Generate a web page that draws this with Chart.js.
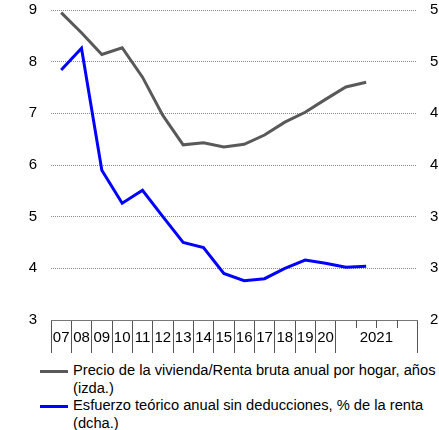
<!DOCTYPE html>
<html>
<head>
<meta charset="utf-8">
<script src="https://cdn.jsdelivr.net/npm/chart.js@4"></script>
<style>
  html, body { margin: 0; padding: 0; background: #fff; }
  body { width: 439px; height: 430px; overflow: hidden; font-family: "Liberation Sans", Arial, sans-serif; }
  #wrap { position: relative; width: 439px; height: 360px; }
  #legend { margin-top: 2px; font-size: 14.7px; line-height: 17.6px; color: #000; }
  .item { display: flex; align-items: flex-start; }
  .swatch { width: 28px; height: 3px; margin-left: 40px; margin-top: 8px; margin-right: 5px; flex: none; }
  .txt { white-space: nowrap; }
</style>
</head>
<body>
<div id="wrap"><canvas id="c" width="439" height="360"></canvas></div>
<div id="legend"></div>
<script>
// ---- data ----
const categories = ['07','08','09','10','11','12','13','14','15','16','17','18','19','20','I-21','II-21','III-21','IV-21'];
const tickLabels = ['07','08','09','10','11','12','13','14','15','16','17','18','19','20','','','',''];
const groupLabel = '2021';
const seriesNames = [
  ['Precio de la vivienda/Renta bruta anual por hogar, años', '(izda.)'],
  ['Esfuerzo teórico anual sin deducciones, % de la renta', '(dcha.)']
];
const precioRenta = [8.95, 8.56, 8.14, 8.27, 7.70, 6.96, 6.39, 6.43, 6.35, 6.40, 6.58, 6.83, 7.02, 7.27, 7.51, 7.60, null, null];
const esfuerzo = [4.42, 4.63, 3.45, 3.13, 3.255, 3.00, 2.75, 2.70, 2.45, 2.38, 2.40, 2.50, 2.58, 2.55, 2.51, 2.52, null, null];
const leftTicks = { min: 3, max: 9, step: 1 };
const rightTicks = { min: 2, max: 5, step: 0.5 };

const colors = ['#595959', '#0000ff'];
const FONT = { family: '"Liberation Sans", Arial, sans-serif', size: 15 };
const CLEAR = 'rgba(0,0,0,0)';

const quarterTicks = {
  id: 'quarterTicks',
  afterDraw(chart) {
    const x = chart.scales.x;
    const ctx = chart.ctx;
    ctx.save();
    ctx.strokeStyle = '#555';
    ctx.lineWidth = 1;
    for (let i = 15; i <= 17; i++) {
      const bx = Math.round((x.getPixelForTick(i - 1) + x.getPixelForTick(i)) / 2) + 0.5;
      ctx.beginPath();
      ctx.moveTo(bx, x.top);
      ctx.lineTo(bx, x.top + 8);
      ctx.stroke();
    }
    const cx = (x.getPixelForTick(14) + x.getPixelForTick(17)) / 2;
    ctx.fillStyle = '#000';
    ctx.font = FONT.size + 'px ' + FONT.family;
    ctx.textAlign = 'center';
    ctx.textBaseline = 'middle';
    ctx.fillText(groupLabel, cx, x.top + 18);
    ctx.restore();
  }
};

new Chart(document.getElementById('c'), {
  type: 'line',
  data: {
    labels: categories,
    datasets: [
      { label: seriesNames[0].join(' '), data: precioRenta, yAxisID: 'y', borderColor: colors[0], backgroundColor: colors[0], borderWidth: 3, pointRadius: 0, tension: 0, spanGaps: false },
      { label: seriesNames[1].join(' '), data: esfuerzo, yAxisID: 'y2', borderColor: colors[1], backgroundColor: colors[1], borderWidth: 3, pointRadius: 0, tension: 0, spanGaps: false }
    ]
  },
  options: {
    responsive: false,
    animation: false,
    layout: { padding: { top: 10, left: 0, right: 0, bottom: 0 } },
    plugins: { legend: { display: false }, tooltip: { enabled: false } },
    scales: {
      x: {
        type: 'category',
        offset: true,
        grid: {
          display: true,
          offset: true,
          drawOnChartArea: false,
          drawTicks: true,
          tickLength: 33,
          tickWidth: 1,
          tickColor: (ctx) => (ctx.index >= 15 && ctx.index <= 17) ? CLEAR : '#555'
        },
        border: { display: true, color: '#777', width: 1 },
        ticks: {
          autoSkip: false,
          maxRotation: 0,
          padding: -24,
          color: '#000',
          font: FONT,
          callback: (v, i) => tickLabels[i]
        },
        afterFit: (s) => { s.height = 40; }
      },
      y: {
        position: 'left',
        min: leftTicks.min, max: leftTicks.max,
        ticks: { stepSize: leftTicks.step, color: '#000', font: FONT, padding: 0 },
        grid: {
          drawTicks: true,
          tickLength: 14,
          tickColor: CLEAR,
          color: (ctx) => ctx.tick && ctx.tick.value === leftTicks.min ? CLEAR : '#8a8a8a',
          lineWidth: 1
        },
        border: { display: false, dash: [1, 1] },
        afterFit: (s) => { s.width = 51; }
      },
      y2: {
        position: 'right',
        min: rightTicks.min, max: rightTicks.max,
        ticks: { stepSize: rightTicks.step, color: '#000', font: FONT, padding: 0, callback: (v) => String(Math.round(v)) },
        grid: { display: true, drawOnChartArea: false, drawTicks: true, tickLength: 13, tickColor: CLEAR },
        border: { display: false },
        afterFit: (s) => { s.width = 22; }
      }
    }
  },
  plugins: [quarterTicks]
});

// HTML legend
const leg = document.getElementById('legend');
seriesNames.forEach((lines, i) => {
  const item = document.createElement('div');
  item.className = 'item';
  const sw = document.createElement('div');
  sw.className = 'swatch';
  sw.style.background = colors[i];
  const t = document.createElement('div');
  t.className = 'txt';
  lines.forEach((ln, k) => {
    if (k) t.appendChild(document.createElement('br'));
    t.appendChild(document.createTextNode(ln));
  });
  item.appendChild(sw);
  item.appendChild(t);
  leg.appendChild(item);
});
</script>
</body>
</html>
